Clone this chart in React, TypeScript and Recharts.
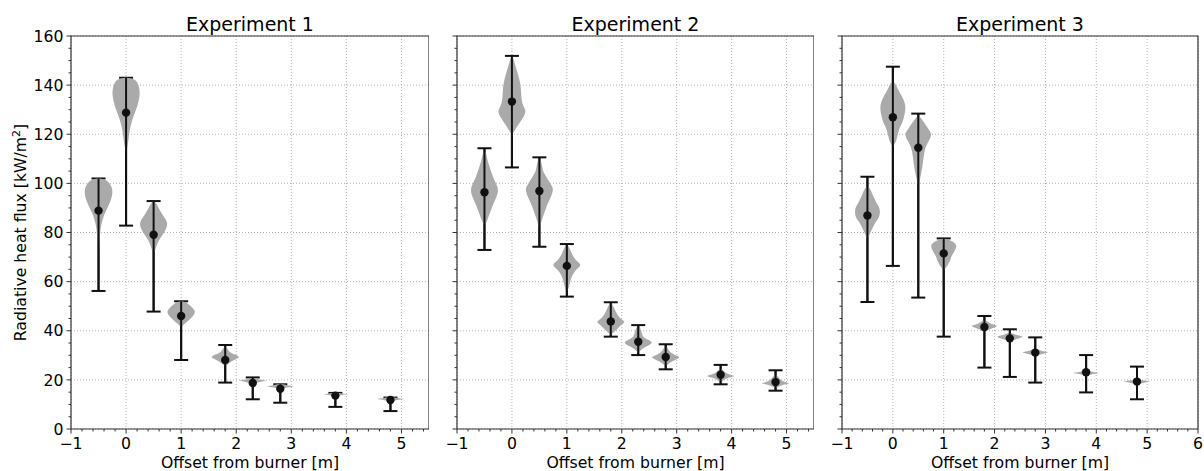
import React from "react";
import {
  ComposedChart,
  Scatter,
  ErrorBar,
  XAxis,
  YAxis,
  CartesianGrid,
  ReferenceArea,
  Curve,
  Label,
} from "recharts";

// offsets from the burner [m], shared by the three experiments
const positions = [-0.5, 0, 0.5, 1, 1.8, 2.3, 2.8, 3.8, 4.8];

// Experiment 1
const exp1Means = [88.9, 128.8, 79.1, 46.0, 28.1, 18.7, 16.4, 13.6, 11.8];
const exp1Lows = [56.2, 82.8, 47.8, 28.1, 18.9, 12.1, 10.7, 9.0, 7.3];
const exp1Highs = [102, 143, 92.8, 52.0, 34.2, 21.0, 18.2, 14.7, 12.8];
// violin outlines: [flux, half width in m], bottom tip to top tip
const exp1Shapes = [
  [[70.5, 0], [76, 0.02], [81, 0.035], [84, 0.06], [87, 0.1], [90, 0.16], [93, 0.22], [96, 0.25], [98.5, 0.235], [100.5, 0.18], [101.6, 0.1], [102, 0]],
  [[113, 0], [115, 0.025], [119, 0.05], [124, 0.09], [128.8, 0.16], [132, 0.21], [136, 0.245], [139, 0.235], [141.5, 0.19], [142.6, 0.11], [143, 0]],
  [[71.5, 0], [73, 0.03], [76, 0.08], [79, 0.16], [83, 0.245], [86, 0.2], [88, 0.14], [90.5, 0.08], [92.6, 0]],
  [[41.5, 0], [43, 0.07], [44.5, 0.15], [46.5, 0.23], [48, 0.245], [49.5, 0.2], [51, 0.12], [52, 0]],
  [[25.7, 0], [27, 0.08], [28.3, 0.18], [29.2, 0.245], [30.3, 0.18], [31.5, 0.08], [33.5, 0]],
  [[18.4, 0], [19.2, 0.15], [19.7, 0.245], [20.1, 0.15], [20.6, 0]],
  [[16.4, 0], [17, 0.15], [17.3, 0.245], [17.7, 0.15], [18.3, 0]],
  [[13.3, 0], [13.9, 0.15], [14.1, 0.245], [14.4, 0.15], [14.8, 0]],
  [[11.3, 0], [11.9, 0.15], [12.2, 0.245], [12.5, 0.15], [12.9, 0]],
];

// Experiment 2
const exp2Means = [96.4, 133.3, 96.9, 66.4, 43.8, 35.5, 29.3, 22.1, 19.1];
const exp2Lows = [72.9, 106.5, 74.2, 53.9, 37.6, 30.1, 24.3, 18.2, 15.6];
const exp2Highs = [114.3, 151.9, 110.6, 75.3, 51.6, 42.3, 34.5, 26.1, 23.9];
const exp2Shapes = [
  [[82.4, 0], [85, 0.05], [88, 0.1], [91, 0.15], [94, 0.21], [97.3, 0.245], [100, 0.21], [103, 0.15], [107, 0.09], [110, 0.05], [113.6, 0]],
  [[119.7, 0], [123, 0.09], [126, 0.18], [129.2, 0.245], [132, 0.2], [136, 0.17], [140.7, 0.15], [146, 0.09], [149, 0.05], [151.6, 0]],
  [[81, 0], [85, 0.045], [90.5, 0.13], [94, 0.2], [97.3, 0.245], [100, 0.2], [104, 0.09], [107, 0.05], [110.2, 0]],
  [[55.9, 0], [58, 0.04], [62, 0.09], [65, 0.18], [66.8, 0.245], [68.5, 0.18], [71.5, 0.09], [74.9, 0]],
  [[38.3, 0], [40.3, 0.1], [42.5, 0.2], [43.7, 0.245], [45, 0.18], [47.8, 0.09], [51.2, 0]],
  [[30.8, 0], [33, 0.1], [35.1, 0.245], [37, 0.12], [39.5, 0.06], [41.9, 0]],
  [[25.4, 0], [27.3, 0.1], [29.2, 0.245], [31, 0.1], [33.8, 0]],
  [[18.6, 0], [20.5, 0.1], [21.6, 0.245], [22.8, 0.1], [24.7, 0]],
  [[16.5, 0], [17.8, 0.12], [18.6, 0.245], [20, 0.1], [22.4, 0]],
];

// Experiment 3
const exp3Means = [86.9, 126.9, 114.5, 71.5, 41.5, 36.9, 31.1, 23.1, 19.3];
const exp3Lows = [51.7, 66.4, 53.5, 37.6, 25.0, 21.2, 18.9, 14.9, 12.1];
const exp3Highs = [102.7, 147.5, 128.4, 77.6, 46.0, 40.6, 37.3, 30.1, 25.4];
const exp3Shapes = [
  [[77, 0], [80, 0.06], [83.8, 0.15], [86, 0.22], [88.5, 0.245], [91, 0.21], [94.6, 0.12], [98.7, 0]],
  [[115, 0], [117.7, 0.07], [121.7, 0.12], [124.5, 0.18], [127.2, 0.22], [131.2, 0.245], [135, 0.19], [138, 0.11], [141.4, 0]],
  [[98.7, 0], [103.4, 0.05], [108.2, 0.09], [113.6, 0.13], [117, 0.2], [119.7, 0.25], [121.5, 0.22], [123.1, 0.17], [125.5, 0.09], [127.2, 0]],
  [[64.5, 0], [66.5, 0.07], [68.8, 0.13], [70.1, 0.15], [72, 0.2], [74.2, 0.245], [75.7, 0.21], [77, 0.1], [77.5, 0]],
  [[39.2, 0], [40.5, 0.1], [41.9, 0.245], [43, 0.12], [44.4, 0]],
  [[35.1, 0], [36.5, 0.12], [37.6, 0.245], [38.4, 0.12], [39.2, 0]],
  [[29.4, 0], [30.4, 0.12], [31.2, 0.245], [31.9, 0.12], [32.8, 0]],
  [[21.6, 0], [22.3, 0.12], [22.8, 0.245], [23.3, 0.12], [24, 0]],
  [[17.9, 0], [18.7, 0.12], [19.3, 0.245], [19.8, 0.12], [20.2, 0]],
];

const titles = ["Experiment 1", "Experiment 2", "Experiment 3"];

const xMajorTicks = [-1, 0, 1, 2, 3, 4, 5, 6];
const xMinorTicks = [
  -0.8, -0.6, -0.4, -0.2, 0.2, 0.4, 0.6, 0.8, 1.2, 1.4, 1.6, 1.8, 2.2, 2.4,
  2.6, 2.8, 3.2, 3.4, 3.6, 3.8, 4.2, 4.4, 4.6, 4.8, 5.2, 5.4, 5.6, 5.8,
];
const yMajorTicks = [0, 20, 40, 60, 80, 100, 120, 140, 160];
const yMinorTicks = [
  5, 10, 15, 25, 30, 35, 45, 50, 55, 65, 70, 75, 85, 90, 95, 105, 110, 115,
  125, 130, 135, 145, 150, 155,
];

const fontFamily = "'DejaVu Sans', sans-serif";
const textSize = 15.7;
const violinFill = "#aaaaaa";
const ink = "#111111";
const spine = "#333333";

const panels = [
  { left: 0, width: 429, right: 0, yAxisWidth: 71, xMax: 5.5, showYLabels: true, means: exp1Means, lows: exp1Lows, highs: exp1Highs, shapes: exp1Shapes },
  { left: 437, width: 377, right: 0, yAxisWidth: 20, xMax: 5.5, showYLabels: false, means: exp2Means, lows: exp2Lows, highs: exp2Highs, shapes: exp2Shapes },
  { left: 822, width: 382, right: 6, yAxisWidth: 20, xMax: 6, showYLabels: false, means: exp3Means, lows: exp3Lows, highs: exp3Highs, shapes: exp3Shapes },
];

// right side bottom -> top, then left side back down
function buildViolin(pos: number, profile: number[][]) {
  const right = profile.map(([y, w]) => ({ x: pos + w, y }));
  const left = profile
    .slice(0, -1)
    .reverse()
    .map(([y, w]) => ({ x: pos - w, y }));
  return [...right, ...left];
}

const renderNothing = () => <g />;

const renderViolin = (p: any) => (
  <Curve points={p.points} type="natural" fill={violinFill} stroke="none" />
);

const renderMean = (p: any) => <circle cx={p.cx} cy={p.cy} r={4.2} fill={ink} />;

function XTick(props: any) {
  const { x, y, payload } = props;
  const v = payload.value;
  const major = xMajorTicks.includes(v);
  return (
    <g>
      <line x1={x} x2={x} y1={y} y2={y + (major ? 4.5 : 2.5)} stroke={spine} strokeWidth={1} />
      {major && (
        <text x={x} y={y + 19.5} textAnchor="middle" fontSize={textSize} fill="#000" fontFamily={fontFamily}>
          {v < 0 ? `\u2212${-v}` : String(v)}
        </text>
      )}
    </g>
  );
}

function YTick(props: any) {
  const { x, y, payload, showLabel } = props;
  const v = payload.value;
  const major = yMajorTicks.includes(v);
  return (
    <g>
      <line x1={x} x2={x - (major ? 4.5 : 2.5)} y1={y} y2={y} stroke={spine} strokeWidth={1} />
      {major && showLabel && (
        <text x={x - 7.5} y={y} dy="0.36em" textAnchor="end" fontSize={textSize} fill="#000" fontFamily={fontFamily}>
          {v}
        </text>
      )}
    </g>
  );
}

function YLabelContent(props: any) {
  const vb = props.viewBox || { x: 0, y: 36, width: 71, height: 393 };
  const cx = vb.x + 26;
  const cy = vb.y + vb.height / 2;
  return (
    <text
      transform={`translate(${cx},${cy}) rotate(-90)`}
      textAnchor="middle"
      fontSize={textSize}
      fill="#000"
      fontFamily={fontFamily}
    >
      Radiative heat flux [kW/m
      <tspan dy={-6} fontSize={11}>2</tspan>
      <tspan dy={6}>]</tspan>
    </text>
  );
}

function Panel({ index }: { index: number }) {
  const panel = panels[index];
  const xTicks = [...xMajorTicks, ...xMinorTicks]
    .filter((t) => t <= panel.xMax)
    .sort((a, b) => a - b);
  const yTicks = [...yMajorTicks, ...yMinorTicks].sort((a, b) => a - b);
  const meanData = positions.map((x, i) => ({
    x,
    y: panel.means[i],
    err: [panel.means[i] - panel.lows[i], panel.highs[i] - panel.means[i]],
  }));

  return (
    <div style={{ position: "absolute", left: panel.left, top: 0 }}>
      <ComposedChart
        width={panel.width}
        height={471}
        margin={{ top: 36, right: panel.right, bottom: 0, left: 0 }}
      >
        <CartesianGrid
          horizontalValues={yMajorTicks}
          verticalValues={xMajorTicks.filter((t) => t <= panel.xMax)}
          stroke="#b3b3b3"
          strokeDasharray="1 2"
        />
        <XAxis
          type="number"
          dataKey="x"
          domain={[-1, panel.xMax]}
          ticks={xTicks}
          interval={0}
          height={42}
          axisLine={false}
          tickLine={false}
          tickSize={0}
          tickMargin={0}
          tick={(p: any) => <XTick {...p} />}
          label={{
            value: "Offset from burner [m]",
            position: "insideBottom",
            offset: 3,
            fontSize: textSize,
            fill: "#000",
            fontFamily,
          }}
        />
        <YAxis
          type="number"
          dataKey="y"
          domain={[0, 160]}
          ticks={yTicks}
          interval={0}
          width={panel.yAxisWidth}
          axisLine={false}
          tickLine={false}
          tickSize={0}
          tickMargin={0}
          tick={(p: any) => <YTick {...p} showLabel={panel.showYLabels} />}
          label={panel.showYLabels ? <Label content={YLabelContent} /> : undefined}
        />
        {panel.shapes.map((profile, i) => (
          <Scatter
            key={`violin-${i}`}
            data={buildViolin(positions[i], profile)}
            shape={renderNothing}
            line={renderViolin}
            lineJointType="natural"
            isAnimationActive={false}
          />
        ))}
        {positions.map((pos, i) => (
          <Scatter
            key={`whisker-${i}`}
            data={[
              { x: pos, y: panel.lows[i] },
              { x: pos, y: panel.highs[i] },
            ]}
            shape={renderNothing}
            line={{ stroke: ink, strokeWidth: 2 }}
            lineJointType="linear"
            isAnimationActive={false}
          />
        ))}
        <Scatter data={meanData} shape={renderMean} isAnimationActive={false}>
          <ErrorBar
            dataKey="err"
            direction="y"
            width={7}
            stroke={ink}
            strokeWidth={2}
            isAnimationActive={false}
          />
        </Scatter>
        <ReferenceArea
          x1={-1}
          x2={panel.xMax}
          y1={0}
          y2={160}
          fill="none"
          stroke={spine}
          strokeWidth={1.2}
          label={{
            value: titles[index],
            position: "top",
            offset: 5.5,
            fontSize: 19,
            fill: "#000",
            fontFamily,
          }}
        />
      </ComposedChart>
    </div>
  );
}

export default function App() {
  return (
    <div
      style={{
        position: "absolute",
        left: 0,
        top: 0,
        width: 1204,
        height: 471,
        background: "#fff",
        fontFamily,
      }}
    >
      {panels.map((_, i) => (
        <Panel key={i} index={i} />
      ))}
    </div>
  );
}
